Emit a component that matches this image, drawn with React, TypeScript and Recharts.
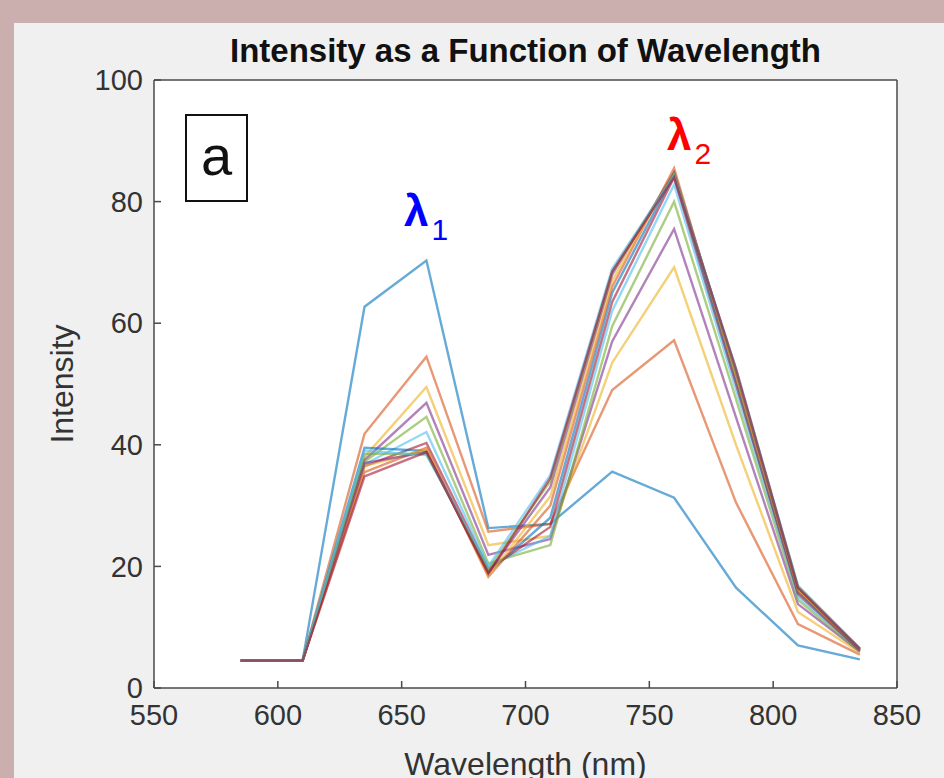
import { LineChart, Line, XAxis, YAxis, ReferenceArea } from "recharts";

const wavelengths = [585, 610, 635, 660, 685, 710, 735, 760, 785, 810, 835];

// one spectrum per run
const run1 = [4.5, 4.5, 62.7, 70.3, 26.3, 27.0, 35.6, 31.3, 16.5, 7.0, 4.7];
const run2 = [4.5, 4.5, 41.8, 54.5, 25.7, 27.0, 49.0, 57.2, 30.5, 10.5, 5.5];
const run3 = [4.5, 4.5, 38.0, 49.5, 23.5, 25.0, 53.5, 69.2, 40.0, 12.5, 5.8];
const run4 = [4.5, 4.5, 37.5, 46.9, 21.9, 24.5, 57.0, 75.5, 44.5, 13.8, 6.0];
const run5 = [4.5, 4.5, 37.2, 44.6, 20.5, 23.5, 59.5, 80.0, 47.5, 14.5, 6.0];
const run6 = [4.5, 4.5, 36.8, 42.1, 20.0, 25.0, 62.0, 82.8, 49.0, 15.0, 6.2];
const run7 = [4.5, 4.5, 36.5, 40.3, 19.5, 26.5, 63.5, 84.0, 50.0, 15.5, 6.2];
const run8 = [4.5, 4.5, 39.5, 39.0, 19.0, 28.0, 65.0, 84.5, 50.5, 15.8, 6.3];
const run9 = [4.5, 4.5, 35.5, 39.5, 18.3, 30.0, 66.0, 85.5, 51.0, 16.0, 6.3];
const run10 = [4.5, 4.5, 36.5, 39.2, 18.5, 31.5, 67.0, 85.0, 51.5, 16.3, 6.4];
const run11 = [4.5, 4.5, 37.0, 38.8, 19.0, 33.0, 68.0, 84.8, 52.0, 16.5, 6.5];
const run12 = [4.5, 4.5, 38.5, 38.5, 19.5, 34.0, 68.5, 84.5, 52.0, 16.8, 6.5];
const run13 = [4.5, 4.5, 39.0, 38.3, 20.0, 35.0, 69.0, 84.2, 52.5, 16.8, 6.5];
const run14 = [4.5, 4.5, 34.8, 38.8, 18.8, 34.5, 68.5, 84.0, 52.5, 16.5, 6.4];

const runs = [run1, run2, run3, run4, run5, run6, run7, run8, run9, run10, run11, run12, run13, run14];

const xTicks = [550, 600, 650, 700, 750, 800, 850];
const yTicks = [0, 20, 40, 60, 80, 100];

const colors = ["#0072BD", "#D95319", "#EDB120", "#7E2F8E", "#77AC30", "#4DBEEE", "#A2142F"];

const data = wavelengths.map((w, i) => {
  const row: Record<string, number> = { w };
  runs.forEach((r, k) => (row["r" + k] = r[i]));
  return row;
});

const font = "'Liberation Sans', Arial, Helvetica, sans-serif";
const axisColor = "#4a4a4a";
const tickText = { fill: "#333", fontSize: 29, fontFamily: font };

export default function App() {
  return (
    <div style={{ position: "relative", width: 944, height: 778, background: "#cbaeae", overflow: "hidden" }}>
      <style>{"body{margin:0}"}</style>
      <div style={{ position: "absolute", left: 14, top: 23, right: 0, bottom: 0, background: "#f0f0f0" }} />

      <div style={{ position: "absolute", left: 0, top: 0 }}>
        <LineChart width={944} height={778} data={data} margin={{ top: 78, right: 45, bottom: 30, left: 0 }}>
          <XAxis xAxisId="b" dataKey="w" type="number" domain={[550, 850]} ticks={xTicks}
            allowDataOverflow height={60} tickSize={-7} tickMargin={23}
            tick={tickText} axisLine={{ stroke: axisColor, strokeWidth: 1.5 }} tickLine={{ stroke: axisColor, strokeWidth: 1.5 }} />
          <XAxis xAxisId="t" orientation="top" dataKey="w" type="number" domain={[550, 850]} ticks={xTicks}
            allowDataOverflow height={2} tickSize={-7} tick={false}
            axisLine={{ stroke: axisColor, strokeWidth: 1.5 }} tickLine={{ stroke: axisColor, strokeWidth: 1.5 }} />
          <YAxis yAxisId="l" type="number" domain={[0, 100]} ticks={yTicks} allowDataOverflow
            width={154} tickSize={-7} tickMargin={18} tick={tickText}
            axisLine={{ stroke: axisColor, strokeWidth: 1.5 }} tickLine={{ stroke: axisColor, strokeWidth: 1.5 }} />
          <YAxis yAxisId="r" orientation="right" type="number" domain={[0, 100]} ticks={yTicks} allowDataOverflow
            width={2} tickSize={-7} tick={false}
            axisLine={{ stroke: axisColor, strokeWidth: 1.5 }} tickLine={{ stroke: axisColor, strokeWidth: 1.5 }} />
          <ReferenceArea xAxisId="b" yAxisId="l" x1={550} x2={850} y1={0} y2={100} fill="#ffffff" fillOpacity={1} stroke="none" />
          <Line xAxisId="t" yAxisId="r" dataKey="r0" stroke="none" dot={false} isAnimationActive={false} />
          {runs.map((_, k) => (
            <Line key={k} xAxisId="b" yAxisId="l" dataKey={"r" + k} type="linear"
              stroke={colors[k % colors.length]} strokeOpacity={0.6} strokeWidth={2.4}
              dot={false} isAnimationActive={false} />
          ))}
        </LineChart>
      </div>

      <div style={{ position: "absolute", left: 154, width: 743, top: 32, textAlign: "center", fontFamily: font, fontWeight: "bold", fontSize: 33, color: "#111" }}>
        Intensity as a Function of Wavelength
      </div>
      <div style={{ position: "absolute", left: 154, width: 743, top: 746, textAlign: "center", fontFamily: font, fontSize: 32, color: "#333" }}>
        Wavelength (nm)
      </div>
      <div style={{ position: "absolute", left: 62, top: 384, transform: "translate(-50%, -50%) rotate(-90deg)", fontFamily: font, fontSize: 32, color: "#333", whiteSpace: "nowrap" }}>
        Intensity
      </div>

      <div style={{ position: "absolute", left: 185, top: 114, width: 59, height: 84, border: "2px solid #111", background: "#fff", fontFamily: font, fontSize: 56, lineHeight: "80px", textAlign: "center", color: "#111" }}>
        a
      </div>

      <div style={{ position: "absolute", left: 404, top: 186, fontFamily: font, fontWeight: "bold", fontSize: 44, color: "#0000ff", whiteSpace: "nowrap" }}>
        λ<span style={{ fontWeight: "normal", fontSize: 30, position: "relative", top: 14, left: 3 }}>1</span>
      </div>
      <div style={{ position: "absolute", left: 667, top: 110, fontFamily: font, fontWeight: "bold", fontSize: 44, color: "#ff0000", whiteSpace: "nowrap" }}>
        λ<span style={{ fontWeight: "normal", fontSize: 30, position: "relative", top: 14, left: 3 }}>2</span>
      </div>
    </div>
  );
}
